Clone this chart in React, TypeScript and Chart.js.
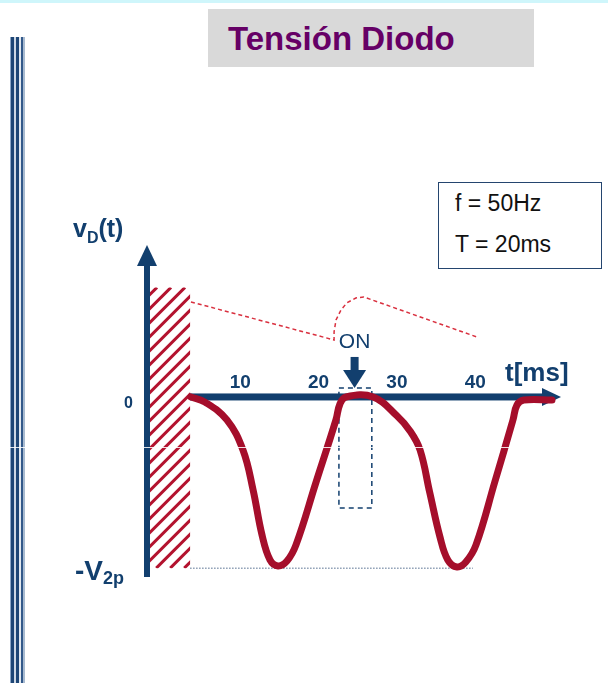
import React, { useEffect, useRef } from "react";
import { Chart, registerables } from "chart.js";

Chart.register(...registerables);

const NAVY = "#123f6e";
const CRIMSON = "#a50e2b";
const HATCH_RED = "#b3122e";
const FONT = '"Liberation Sans", Arial, sans-serif';

// x axis ticks (ms)
const xTickValues = [10, 20, 30, 40];
const xTickLabels = ["10", "20", "30", "40"];

// y axis ticks (normalised to V2p)
const yTickValues = [0, -1];
const yTickLabels = [
  { main: "0", sub: "" },
  { main: "-V", sub: "2p" },
];

// diode voltage curve
const curveT = [3.7, 5.5, 8.3, 10.35, 11.63, 12.78, 13.8, 14.82, 15.97, 17.12, 19.67, 22.22, 22.73, 23.5, 26.97, 30.0, 31.7, 32.96, 34.2, 35.5, 36.5, 37.67, 38.8, 40.1, 42.5, 44.82, 45.33, 46.2, 49.8];
const curveV = [0, -0.03, -0.134, -0.31, -0.54, -0.806, -0.952, -0.987, -0.958, -0.864, -0.499, -0.134, -0.041, 0, 0, -0.11, -0.2, -0.31, -0.56, -0.818, -0.952, -0.993, -0.964, -0.864, -0.496, -0.134, -0.047, -0.018, -0.018];

// dashed capacitor-voltage envelope
const envT = [3.71, 21.98, 21.98, 22.23, 22.86, 23.6, 24.75, 25.77, 40.22];
const envV = [0.555, 0.333, 0.38, 0.45, 0.508, 0.549, 0.578, 0.584, 0.35];

// dashed "ON" window
const onBoxT = [22.6, 26.8, 26.8, 22.6, 22.6];
const onBoxV = [0.053, 0.053, -0.648, -0.648, 0.053];

// dotted -V2p reference
const peakRefT = [3.6, 39.7];
const peakRefV = [-1, -1];

// hatched region
const hatchEndT = 3.6;
const hatchTopV = 0.64;
const hatchBottomV = -1;

const onMarkerT = 24.6;

const pts = (ts: number[], vs: number[]) => ts.map((t, i) => ({ x: t, y: vs[i] }));

const drawPlugin = {
  id: "diodeDecor",
  beforeDatasetsDraw(chart: any) {
    const { ctx, chartArea: ca } = chart;
    const xs = chart.scales.x;
    const ys = chart.scales.y;
    const y0 = ys.getPixelForValue(0);
    ctx.save();

    // hatch
    const hx0 = ca.left + 2;
    const hx1 = xs.getPixelForValue(hatchEndT);
    const hyT = ys.getPixelForValue(hatchTopV);
    const hyB = ys.getPixelForValue(hatchBottomV);
    ctx.save();
    ctx.beginPath();
    ctx.rect(hx0, hyT, hx1 - hx0, hyB - hyT);
    ctx.clip();
    ctx.strokeStyle = HATCH_RED;
    ctx.lineWidth = 3;
    const H = hyB - hyT;
    for (let k = -H - 20; k < hx1 - hx0 + 20; k += 14) {
      ctx.beginPath();
      ctx.moveTo(hx0 + k, hyB);
      ctx.lineTo(hx0 + k + H, hyB - H);
      ctx.stroke();
    }
    ctx.restore();

    // y axis with arrow
    const ax = ca.left;
    ctx.fillStyle = NAVY;
    ctx.fillRect(ax - 3, ca.top + 4, 6, ca.bottom + 2 - (ca.top + 4));
    ctx.beginPath();
    ctx.moveTo(ax, ca.top - 15);
    ctx.lineTo(ax - 10, ca.top + 6);
    ctx.lineTo(ax + 10, ca.top + 6);
    ctx.closePath();
    ctx.fill();

    // x axis with arrow
    ctx.fillRect(hx1, y0 - 3.5, ca.right - 8 - hx1, 7);
    ctx.beginPath();
    ctx.moveTo(ca.right + 9, y0);
    ctx.lineTo(ca.right - 10, y0 - 9);
    ctx.lineTo(ca.right - 10, y0 + 9);
    ctx.closePath();
    ctx.fill();
    ctx.restore();
  },
  afterDraw(chart: any) {
    const { ctx, chartArea: ca } = chart;
    const xs = chart.scales.x;
    const ys = chart.scales.y;
    const y0 = ys.getPixelForValue(0);
    ctx.save();
    ctx.fillStyle = NAVY;
    ctx.textBaseline = "alphabetic";

    // y tick labels
    yTickValues.forEach((v, i) => {
      const py = ys.getPixelForValue(v);
      const lab = yTickLabels[i];
      if (lab.sub) {
        ctx.font = `bold 28px ${FONT}`;
        ctx.textAlign = "left";
        const x = ca.left - 72;
        ctx.fillText(lab.main, x, py + 12);
        const w = ctx.measureText(lab.main).width;
        ctx.font = `bold 18px ${FONT}`;
        ctx.fillText(lab.sub, x + w, py + 16);
      } else {
        ctx.font = `bold 16px ${FONT}`;
        ctx.textAlign = "right";
        ctx.fillText(lab.main, ca.left - 14, py + 11);
      }
    });

    // y axis title v_D(t)
    ctx.textAlign = "left";
    let tx = ca.left - 74;
    const tb = ca.top - 23;
    ctx.font = `bold 25px ${FONT}`;
    ctx.fillText("v", tx, tb);
    tx += ctx.measureText("v").width;
    ctx.font = `bold 16px ${FONT}`;
    ctx.fillText("D", tx, tb + 6);
    tx += ctx.measureText("D").width;
    ctx.font = `bold 25px ${FONT}`;
    ctx.fillText("(t)", tx, tb);

    // x axis title
    ctx.font = `bold 26px ${FONT}`;
    ctx.fillText("t[ms]", ca.right - 47, y0 - 16);

    // ON marker
    const mx = xs.getPixelForValue(onMarkerT);
    ctx.font = `21px ${FONT}`;
    ctx.textAlign = "center";
    ctx.fillText("ON", mx, y0 - 49);
    ctx.fillRect(mx - 4, y0 - 40, 8, 14);
    ctx.beginPath();
    ctx.moveTo(mx - 11.5, y0 - 27);
    ctx.lineTo(mx + 11.5, y0 - 27);
    ctx.lineTo(mx, y0 - 9);
    ctx.closePath();
    ctx.fill();

    // faint scan line artefact
    ctx.fillStyle = "rgba(255,255,255,0.85)";
    ctx.fillRect(0, 447, chart.width, 1);
    ctx.restore();
  },
};

export default function App() {
  const ref = useRef<HTMLCanvasElement>(null);

  useEffect(() => {
    const chart = new Chart(ref.current as HTMLCanvasElement, {
      type: "line",
      data: {
        datasets: [
          {
            label: "vD",
            data: pts(curveT, curveV),
            borderColor: CRIMSON,
            borderWidth: 7,
            pointRadius: 0,
            tension: 0.4,
            borderCapStyle: "round",
            borderJoinStyle: "round",
            fill: false,
            clip: false,
          } as any,
          {
            label: "env",
            data: pts(envT, envV),
            borderColor: "#d9303f",
            borderWidth: 1.5,
            borderDash: [4, 3],
            pointRadius: 0,
            tension: 0,
            fill: false,
            clip: false,
          } as any,
          {
            label: "onbox",
            data: pts(onBoxT, onBoxV),
            borderColor: NAVY,
            borderWidth: 1.5,
            borderDash: [5, 4],
            pointRadius: 0,
            tension: 0,
            fill: false,
            clip: false,
          } as any,
          {
            label: "ref",
            data: pts(peakRefT, peakRefV),
            borderColor: "#8b9db3",
            borderWidth: 1.5,
            borderDash: [1.5, 1.5],
            pointRadius: 0,
            tension: 0,
            fill: false,
            clip: false,
          } as any,
        ],
      },
      options: {
        animation: false,
        responsive: false,
        devicePixelRatio: 1,
        events: [],
        layout: { padding: { left: 147, right: 56, top: 260, bottom: 108 } },
        plugins: { legend: { display: false }, tooltip: { enabled: false } },
        scales: {
          x: {
            type: "linear",
            min: -1.9,
            max: 49.8,
            position: { y: 0 } as any,
            grid: { display: false },
            border: { display: false },
            afterBuildTicks: (scale: any) => {
              scale.ticks = xTickValues.map((v) => ({ value: v }));
            },
            afterFit: (scale: any) => {
              scale.height = 0;
            },
            ticks: {
              autoSkip: false,
              maxRotation: 0,
              padding: -34,
              color: NAVY,
              font: { family: FONT, size: 19, weight: "bold" },
              callback: (value: any) => xTickLabels[xTickValues.indexOf(Number(value))] ?? "",
            },
          },
          y: {
            type: "linear",
            min: -1.04,
            max: 0.8,
            display: false,
          },
        },
      },
      plugins: [drawPlugin],
    } as any);
    return () => chart.destroy();
  }, []);

  return (
    <div
      style={{
        position: "fixed",
        left: 0,
        top: 0,
        width: 608,
        height: 683,
        background: "#ffffff",
        overflow: "hidden",
        fontFamily: FONT,
      }}
    >
      <div style={{ position: "absolute", left: 0, top: 0, width: 608, height: 3, background: "#cff6fb" }} />
      <div
        style={{
          position: "absolute",
          left: 10,
          top: 37,
          width: 15,
          height: 646,
          background:
            "linear-gradient(to right, #8ea7c6 0px, #8ea7c6 1px, #1e4676 1px, #1e4676 4px, #cdd7e4 4px, #cdd7e4 6px, #1e4676 6px, #1e4676 9px, #e3e9f0 9px, #e3e9f0 11px, #33598a 11px, #33598a 13px, #a9bbd0 13px, #a9bbd0 15px)",
        }}
      />
      <div
        style={{
          position: "absolute",
          left: 208,
          top: 9,
          width: 326,
          height: 58,
          background: "#d9d9d9",
        }}
      />
      <div
        style={{
          position: "absolute",
          left: 228,
          top: 22,
          fontSize: 33,
          lineHeight: "33px",
          fontWeight: "bold",
          color: "#660066",
          whiteSpace: "nowrap",
        }}
      >
        Tensión Diodo
      </div>
      <div
        style={{
          position: "absolute",
          left: 438,
          top: 182,
          width: 162,
          height: 85,
          border: "1.5px solid #24456f",
        }}
      />
      <div style={{ position: "absolute", left: 455, top: 192, fontSize: 23, lineHeight: "23px", color: "#111", whiteSpace: "nowrap" }}>
        f = 50Hz
      </div>
      <div style={{ position: "absolute", left: 455, top: 233, fontSize: 23, lineHeight: "23px", color: "#111", whiteSpace: "nowrap" }}>
        T = 20ms
      </div>
      <canvas ref={ref} width={608} height={683} style={{ position: "absolute", left: 0, top: 0 }} />
    </div>
  );
}
